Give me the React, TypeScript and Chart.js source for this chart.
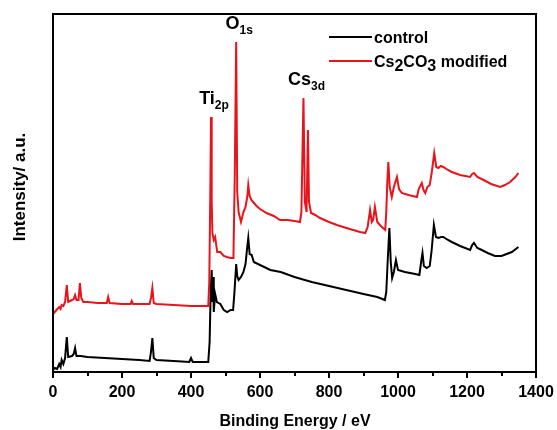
import React, { useEffect, useRef } from "react";
import { Chart, registerables } from "chart.js";

Chart.register(...registerables);

// Control (black) spectrum: binding energy (eV) and intensity (a.u.)
const controlEnergy = [0, 5, 12, 18, 22, 25, 30, 35, 40, 44, 55, 60, 64, 68, 80, 100, 150, 200, 250, 280, 284, 288, 292, 300, 350, 395, 400, 405, 450, 454, 457, 460, 462, 464, 466, 470, 475, 485, 495, 505, 515, 522, 526, 531, 534, 538, 545, 552, 558, 563, 566, 570, 576, 582, 600, 630, 660, 700, 750, 800, 850, 900, 940, 962, 966, 970, 975, 979, 983, 988, 994, 1000, 1020, 1050, 1062, 1067, 1071, 1075, 1083, 1092, 1097, 1104, 1110, 1117, 1125, 1131, 1145, 1156, 1180, 1209, 1215, 1220, 1230, 1243, 1260, 1281, 1300, 1315, 1330, 1349];
const controlIntensity = [2, 4, 3, 8, 5, 12, 8, 14, 35, 15, 16, 18, 24, 16, 16, 15, 14, 13, 12, 11, 20, 34, 14, 12, 11, 10, 14, 10, 10, 30, 80, 102, 70, 95, 60, 78, 70, 68, 62, 60, 62, 62, 80, 108, 96, 92, 95, 100, 108, 125, 134, 118, 117, 110, 107, 102, 100, 95, 90, 86, 82, 78, 75, 72, 80, 110, 144, 110, 94, 100, 112, 102, 100, 98, 97, 110, 119, 106, 104, 106, 120, 147, 135, 134, 135, 135, 132, 130, 126, 122, 127, 129, 124, 122, 119, 116, 116, 118, 120, 125];

// Cs2CO3 modified (red) spectrum
const modifiedEnergy = [0, 5, 10, 18, 22, 25, 30, 35, 40, 44, 55, 60, 64, 68, 74, 78, 82, 88, 100, 130, 156, 160, 164, 200, 225, 228, 232, 280, 284, 288, 292, 300, 350, 400, 450, 453, 456, 458, 460, 462, 466, 470, 476, 485, 495, 504, 515, 523, 527, 531, 534, 538, 545, 552, 558, 563, 566, 570, 575, 580, 590, 600, 619, 640, 658, 680, 700, 716, 720, 726, 730, 735, 739, 742, 748, 760, 774, 800, 823, 860, 890, 905, 912, 919, 924, 928, 933, 940, 950, 963, 966, 969, 972, 976, 982, 988, 997, 1003, 1011, 1030, 1055, 1060, 1069, 1074, 1079, 1085, 1092, 1098, 1105, 1111, 1117, 1124, 1131, 1145, 1156, 1180, 1209, 1215, 1220, 1230, 1248, 1270, 1296, 1310, 1325, 1340, 1349];
const modifiedIntensity = [58, 60, 62, 65, 63, 67, 66, 70, 87, 70, 72, 73, 77, 72, 72, 89, 74, 70, 70, 69, 69, 75, 69, 68, 68, 71, 68, 68, 74, 84, 69, 68, 67, 66, 66, 90, 180, 255, 170, 139, 132, 135, 120, 120, 116, 115, 114, 114, 200, 330, 180, 160, 150, 160, 165, 175, 187, 176, 172, 170, 166, 163, 159, 156, 152, 152, 151, 150, 160, 274, 170, 160, 242, 170, 159, 157, 154, 150, 147, 143, 140, 139, 145, 162, 150, 152, 165, 150, 146, 142, 160, 190, 210, 185, 175, 185, 195, 183, 179, 177, 175, 183, 189, 182, 179, 185, 187, 200, 219, 205, 204, 206, 205, 202, 200, 197, 195, 198, 199, 195, 192, 188, 185, 187, 190, 195, 199];

const seriesNames = ["control", "Cs2CO3 modified"];
const seriesColors = ["#000000", "#e8141b"];
const xTickValues = [0, 200, 400, 600, 800, 1000, 1200, 1400];
const xTitle = "Binding Energy / eV";
const yTitle = "Intensity/ a.u.";

// Peak labels: [main, subscript, energy, intensity]
const peakLabels: [string, string, number, number][] = [
  ["Ti", "2p", 458, 255],
  ["O", "1s", 531, 330],
  ["Cs", "3d", 726, 274],
];

const FONT = "'Liberation Sans', Arial, sans-serif";

function drawSub(ctx: CanvasRenderingContext2D, x: number, y: number, parts: [string, boolean][], size: number, subSize: number, subDrop: number) {
  let cx = x;
  for (const [t, sub] of parts) {
    ctx.font = `bold ${sub ? subSize : size}px ${FONT}`;
    ctx.fillText(t, cx, sub ? y + subDrop : y);
    cx += ctx.measureText(t).width;
  }
  return cx;
}

const decorPlugin = {
  id: "decor",
  afterDraw(chart: any) {
    const { ctx, chartArea: ca, scales } = chart;
    const xs = scales.x;
    const ys = scales.y;
    ctx.save();
    // frame
    ctx.strokeStyle = "#000";
    ctx.lineWidth = 2;
    ctx.strokeRect(ca.left, ca.top, ca.right - ca.left, ca.bottom - ca.top);
    // ticks
    for (let v = 0; v <= 1400; v += 100) {
      const px = Math.round(xs.getPixelForValue(v));
      const len = v % 200 === 0 ? 6 : 4;
      ctx.beginPath();
      ctx.moveTo(px, ca.bottom);
      ctx.lineTo(px, ca.bottom + len);
      ctx.stroke();
    }
    ctx.fillStyle = "#000";
    ctx.textBaseline = "alphabetic";
    // x title
    ctx.font = `bold 16px ${FONT}`;
    ctx.textAlign = "center";
    ctx.fillText(xTitle, 295, 426);
    // y title
    ctx.save();
    ctx.translate(25, 187);
    ctx.rotate(-Math.PI / 2);
    ctx.font = `bold 17px ${FONT}`;
    ctx.fillText(yTitle, 0, 0);
    ctx.restore();
    ctx.textAlign = "left";
    // legend
    const legY = [37, 61];
    for (let i = 0; i < 2; i++) {
      ctx.strokeStyle = seriesColors[i];
      ctx.lineWidth = 2;
      ctx.beginPath();
      ctx.moveTo(329, legY[i]);
      ctx.lineTo(372, legY[i]);
      ctx.stroke();
    }
    ctx.fillStyle = "#000";
    ctx.font = `bold 16px ${FONT}`;
    ctx.fillText(seriesNames[0], 374, 43);
    drawSub(ctx, 374, 67, [["Cs", false], ["2", true], ["CO", false], ["3", true], [" modified", false]], 16, 16, 4);
    // peak labels
    for (const [main, sub, e, iv] of peakLabels) {
      const px = xs.getPixelForValue(e);
      const py = ys.getPixelForValue(iv);
      ctx.font = `bold 18px ${FONT}`;
      const w1 = ctx.measureText(main).width;
      ctx.font = `bold 12px ${FONT}`;
      const w2 = ctx.measureText(sub).width;
      const startX = px - (w1 + w2) / 2 + 3;
      drawSub(ctx, startX, py - 13, [[main, false], [sub, true]], 18, 12, 5);
    }
    ctx.restore();
  },
};

export default function App() {
  const ref = useRef<HTMLCanvasElement | null>(null);
  useEffect(() => {
    document.body.style.margin = "0";
    const canvas = ref.current;
    if (!canvas) return;
    const chart = new Chart(canvas, {
      type: "line",
      data: {
        datasets: [
          {
            label: seriesNames[0],
            data: controlEnergy.map((e, i) => ({ x: e, y: controlIntensity[i] })),
            borderColor: seriesColors[0],
            borderWidth: 2,
            pointRadius: 0,
            tension: 0,
            order: 2,
          },
          {
            label: seriesNames[1],
            data: modifiedEnergy.map((e, i) => ({ x: e, y: modifiedIntensity[i] })),
            borderColor: seriesColors[1],
            borderWidth: 2,
            pointRadius: 0,
            tension: 0,
            order: 1,
          },
        ],
      },
      options: {
        responsive: false,
        animation: false,
        layout: { padding: { left: 0, top: 14, right: 21, bottom: 0 } },
        plugins: { legend: { display: false }, tooltip: { enabled: false } },
        scales: {
          x: {
            type: "linear",
            min: 0,
            max: 1400,
            afterBuildTicks: (s: any) => {
              s.ticks = xTickValues.map((v) => ({ value: v }));
            },
            afterFit: (s: any) => {
              s.height = 58;
              s.paddingLeft = 0;
              s.paddingRight = 0;
            },
            grid: { display: false, drawTicks: false },
            border: { display: false },
            ticks: {
              padding: 11,
              color: "#000",
              font: { family: FONT, size: 16, weight: "bold" },
              maxRotation: 0,
              autoSkip: false,
              callback: (v: any) => String(v),
            },
          },
          y: {
            min: 0,
            max: 358,
            afterFit: (s: any) => {
              s.width = 53;
            },
            grid: { display: false, drawTicks: false },
            border: { display: false },
            ticks: { display: false },
          },
        },
      },
      plugins: [decorPlugin],
    });
    return () => chart.destroy();
  }, []);
  return (
    <div style={{ width: 557, height: 430, background: "#fff" }}>
      <canvas ref={ref} width={557} height={430} />
    </div>
  );
}
